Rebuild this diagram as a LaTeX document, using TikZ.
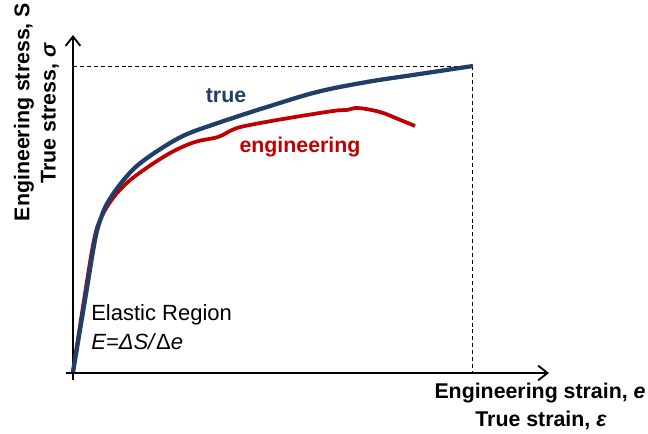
\documentclass[tikz,border=0pt]{standalone}
\usepackage{fontspec}
\setmainfont{Liberation Sans}
\usetikzlibrary{arrows.meta}
\definecolor{truecol}{HTML}{1F3F68}
\definecolor{engcol}{HTML}{C00000}
\tikzset{
  axisline/.style={black,line width=1.5pt,-{Straight Barb[length=7pt,width=11pt,line width=1.4pt]}},
  guide/.style={black,line width=0.7pt,dash pattern=on 3pt off 2.2pt},
  curveeng/.style={engcol,line width=2.8pt,line join=round,smooth,tension=0.6},
  curvetrue/.style={truecol,line width=3.2pt,line join=round,smooth,tension=0.6},
  lab/.style={font=\fontsize{16}{19}\selectfont\bfseries,align=center,inner sep=0pt},
}
\begin{document}
\begin{tikzpicture}[x=0.75pt,y=-0.75pt]
\useasboundingbox (0,0) rectangle (648,434);
\coordinate (xs) at (66,373); \coordinate (xe) at (549,373);
\coordinate (ys) at (73,380); \coordinate (ye) at (73,35);
\coordinate (peak) at (472,66); \coordinate (yp) at (73,66); \coordinate (xp) at (472,373);
\draw[guide] (yp) -- (peak);
\draw[guide] (peak) -- (xp);
\draw[axisline] (ys) -- (ye);
\draw[axisline] (xs) -- (xe);
\draw[curveeng] plot coordinates {(73,372) (84,300) (94,240) (101,218) (113,198) (128,182) (148,167) (172,152) (195,142) (218,137) (232,130) (245,126) (283,119) (333,111) (347,110) (358,108) (380,112) (398,119) (415,126)};
\draw[curvetrue] plot coordinates {(73,372) (85,300) (95,240) (101,218) (108,202) (122,182) (138,165) (162,148) (185,135) (212,125) (245,114) (267,107) (317,92) (367,82) (413,75) (473,66)};
\node[lab,text=truecol,anchor=center] (ltrue) at (226,96) {true};
\node[lab,text=engcol,anchor=center] (leng) at (300,147) {engineering};
\node[lab,rotate=90,anchor=center] (ly1) at (24,112) {Engineering stress, S};
\node[lab,rotate=90,anchor=center] (ly2) at (50,113) {True stress, \textit{σ}};
\node[lab,anchor=center] (lx1) at (540,393) {Engineering strain, \textit{e}};
\node[lab,anchor=center] (lx2) at (541,420) {True strain, \textit{ε}};
\node[font=\fontsize{16.5}{20}\selectfont,anchor=west,inner sep=0pt] (el) at (91,315) {Elastic Region};
\node[font=\fontsize{16.5}{20}\selectfont\itshape,anchor=west,inner sep=0pt] (eq) at (91,342) {E=ΔS/\textup{Δ}e};
\end{tikzpicture}
\end{document}
